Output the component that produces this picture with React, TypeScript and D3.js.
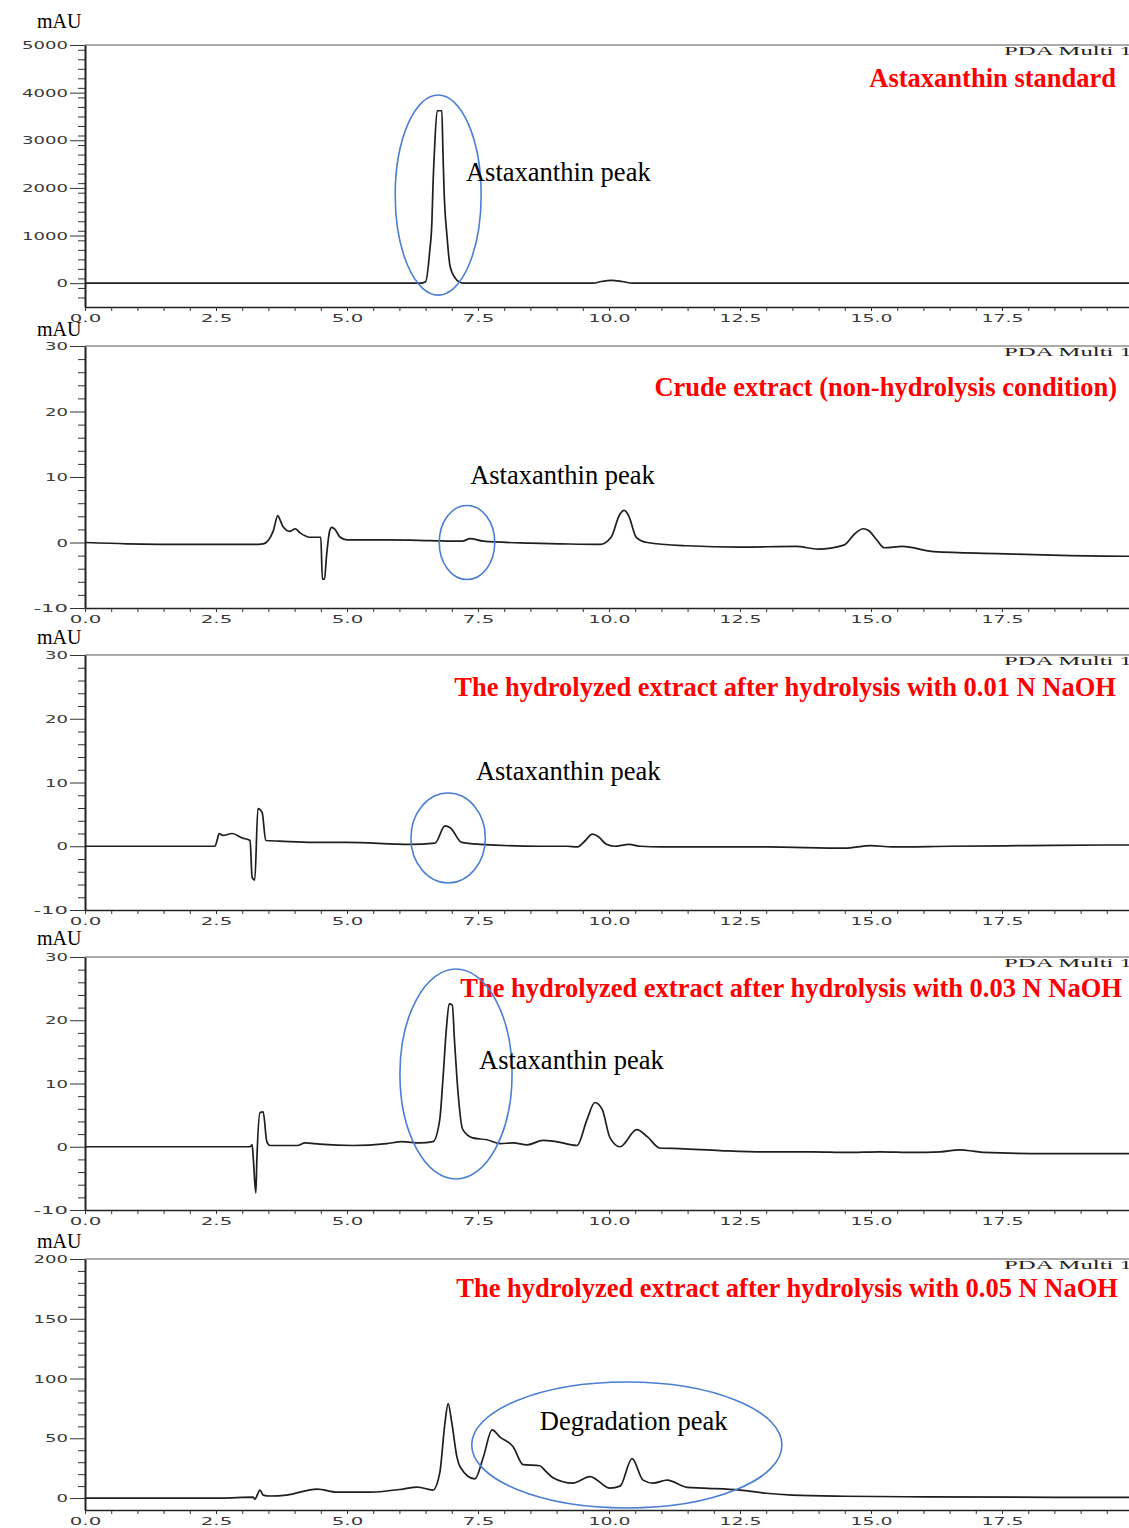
import { useEffect, useRef } from 'react';
import * as d3 from 'd3';

type Pt = [number, number];

// retention time (min), absorbance (mAU)
const standardTrace: Pt[] = [
  [0, 0], [3.3, 0], [6.4, 0], [6.5, 30], [6.58, 690], [6.62, 1280], [6.64, 2020], [6.67, 2800],
  [6.72, 3620], [6.81, 3620], [6.83, 2800], [6.85, 2020], [6.91, 970], [6.97, 340], [7.1, 60],
  [7.21, 0], [9.7, 0], [9.85, 35], [10.05, 60], [10.25, 35], [10.45, 0], [20, 0],
];

const crudeTrace: Pt[] = [
  [0, 0], [0.8, -0.2], [2.0, -0.3], [3.2, -0.3], [3.4, -0.2], [3.59, 1.7], [3.68, 4.1], [3.72, 3.5],
  [3.78, 2.4], [3.91, 1.7], [4.01, 2.1], [4.1, 1.5], [4.29, 0.8], [4.5, 0.8], [4.53, -5.6],
  [4.57, -5.6], [4.61, -2.0], [4.67, 1.8], [4.71, 2.3], [4.77, 2.0], [4.87, 0.8], [5.0, 0.4],
  [5.8, 0.4], [6.58, 0.3], [7.2, 0.2], [7.35, 0.6], [7.6, 0.2], [8.5, -0.1], [9.06, -0.2],
  [9.83, -0.3], [10.04, 0.8], [10.2, 4.2], [10.29, 4.9], [10.38, 4.0], [10.52, 0.8], [10.73, 0.0],
  [11.5, -0.5], [12.5, -0.7], [13.57, -0.6], [13.99, -1.0], [14.48, -0.4], [14.7, 1.4], [14.85, 2.1],
  [14.96, 1.8], [15.1, 0.5], [15.25, -0.8], [15.6, -0.6], [16.2, -1.4], [17.4, -1.7], [18.8, -2.0],
  [19.9, -2.1], [20, -2.1],
];

const naoh001Trace: Pt[] = [
  [0, 0], [2.48, 0], [2.52, 0.9], [2.56, 2.0], [2.63, 1.7], [2.81, 2.0], [3.0, 1.3], [3.15, 0.9],
  [3.19, -4.9], [3.24, -5.3], [3.3, 5.9], [3.38, 5.3], [3.45, 0.9], [3.72, 0.8], [4.35, 0.6],
  [5.0, 0.6], [6.2, 0.3], [6.68, 0.5], [6.87, 3.2], [6.97, 2.9], [7.19, 0.6], [7.54, 0.3],
  [8.68, 0.0], [9.2, 0.0], [9.4, -0.1], [9.55, 0.9], [9.68, 1.9], [9.8, 1.5], [9.95, 0.3],
  [10.1, 0.0], [10.38, 0.3], [10.6, 0.0], [11.0, -0.1], [12.0, -0.1], [13.0, -0.1], [14.5, -0.3],
  [15.0, 0.1], [15.4, -0.1], [16.5, 0.0], [18.0, 0.1], [19.5, 0.2], [20, 0.2],
];

const naoh003Trace: Pt[] = [
  [0, 0], [1.5, 0], [3.15, 0], [3.19, 0.3], [3.21, -1.6], [3.26, -7.3], [3.28, -2], [3.34, 5.4],
  [3.4, 5.5], [3.47, 0.8], [3.53, 0.2], [4.05, 0.2], [4.2, 0.6], [4.48, 0.4], [5.11, 0.2],
  [5.76, 0.5], [6.05, 0.8], [6.39, 0.6], [6.64, 0.8], [6.77, 4.3], [6.83, 10.6], [6.9, 19],
  [6.95, 22.6], [7.01, 22.4], [7.05, 17], [7.1, 10.6], [7.21, 2.7], [7.4, 1.4], [7.67, 1.1],
  [7.92, 0.5], [8.17, 0.6], [8.44, 0.3], [8.74, 1.0], [8.93, 0.9], [9.39, 0.2], [9.58, 4.3],
  [9.73, 7.0], [9.87, 5.9], [10.02, 1.4], [10.21, 0.0], [10.53, 2.7], [10.73, 1.6], [10.97, -0.2],
  [11.35, -0.3], [12.12, -0.6], [12.94, -0.8], [13.89, -0.8], [14.54, -0.9], [15.17, -0.8],
  [15.8, -0.9], [16.32, -0.8], [16.7, -0.5], [16.95, -0.7], [17.14, -0.9], [18.36, -1.1], [20, -1.1],
];

const naoh005Trace: Pt[] = [
  [0, 0], [2.58, 0], [3.21, 0.8], [3.24, -1], [3.34, 6.7], [3.4, 2.5], [3.53, 1.7], [3.85, 2.5],
  [4.43, 7.5], [4.81, 5], [5.44, 5], [6.07, 7.5], [6.34, 9.2], [6.64, 6.7], [6.77, 21], [6.87, 63],
  [6.93, 79], [7.0, 63], [7.1, 34], [7.16, 26], [7.44, 16], [7.6, 34], [7.77, 57], [7.92, 51],
  [8.17, 43], [8.36, 28], [8.68, 27], [8.78, 23], [8.93, 17], [9.31, 12.5], [9.64, 18],
  [10.02, 8.3], [10.21, 10], [10.44, 33], [10.65, 15], [10.84, 12.5], [11.11, 15], [11.49, 9],
  [11.79, 8.3], [12.5, 6.7], [13.0, 4], [13.5, 2.5], [14.5, 1.5], [16, 1], [20, 0.5],
];

const xTicks = [0, 2.5, 5, 7.5, 10, 12.5, 15, 17.5];
const yTicksStandard = [0, 1000, 2000, 3000, 4000, 5000];
const yTicksSmall = [-10, 0, 10, 20, 30];
const yTicksNaoh005 = [0, 50, 100, 150, 200];

const titles = [
  'Astaxanthin standard',
  'Crude extract (non-hydrolysis condition)',
  'The hydrolyzed extract after hydrolysis with 0.01 N NaOH',
  'The hydrolyzed extract after hydrolysis with 0.03 N NaOH',
  'The hydrolyzed extract after hydrolysis with 0.05 N NaOH',
];

const panels = [
  {
    trace: standardTrace, title: titles[0], yDomain: [-500, 5000], yTicks: yTicksStandard, minorStep: 200,
    top: 45, bottom: 307, titleX: 1116, titleDy: 42, mauDy: -17,
    ellipse: { t: 6.74, v: 1850, rt: 0.82, rv: 2100 },
    label: { text: 'Astaxanthin peak', t: 7.27, v: 2145 },
  },
  {
    trace: crudeTrace, title: titles[1], yDomain: [-10, 30], yTicks: yTicksSmall, minorStep: 2,
    top: 346, bottom: 608, titleX: 1117, titleDy: 50, mauDy: -10,
    ellipse: { t: 7.29, v: 0, rt: 0.53, rv: 5.65 },
    label: { text: 'Astaxanthin peak', t: 7.35, v: 8.93 },
  },
  {
    trace: naoh001Trace, title: titles[2], yDomain: [-10, 30], yTicks: yTicksSmall, minorStep: 2,
    top: 655, bottom: 910, titleX: 1116, titleDy: 41, mauDy: -11,
    ellipse: { t: 6.93, v: 1.29, rt: 0.71, rv: 7.06 },
    label: { text: 'Astaxanthin peak', t: 7.46, v: 10.4 },
  },
  {
    trace: naoh003Trace, title: titles[3], yDomain: [-10, 30], yTicks: yTicksSmall, minorStep: 2,
    top: 957, bottom: 1210, titleX: 1122, titleDy: 40, mauDy: -12,
    ellipse: { t: 7.08, v: 11.5, rt: 1.07, rv: 16.6 },
    label: { text: 'Astaxanthin peak', t: 7.52, v: 12.3 },
  },
  {
    trace: naoh005Trace, title: titles[4], yDomain: [-10, 200], yTicks: yTicksNaoh005, minorStep: 10,
    top: 1259, bottom: 1510, titleX: 1118, titleDy: 38, mauDy: -11,
    ellipse: { t: 10.34, v: 44.4, rt: 2.96, rv: 52.7 },
    label: { text: 'Degradation peak', t: 8.68, v: 56.9 },
  },
];

const serif = '"Liberation Serif", "Times New Roman", serif';
const tickFont = '"DejaVu Sans", sans-serif';

const App = () => {
  const svgRef = useRef<SVGSVGElement>(null);

  useEffect(() => {
    if (!svgRef.current) return;
    const svg = d3.select(svgRef.current);
    svg.selectAll('*').remove();

    const x = d3.scaleLinear().domain([0, 20]).range([85, 1133]);

    panels.forEach((p) => {
      const y = d3.scaleLinear().domain(p.yDomain).range([p.bottom, p.top]);
      const g = svg.append('g');

      // grey frame line on top
      g.append('line')
        .attr('x1', x(0)).attr('x2', 1129)
        .attr('y1', p.top).attr('y2', p.top)
        .attr('stroke', '#8f8f8f')
        .attr('stroke-width', 1.5);

      // x axis
      const xAxis = g.append('g')
        .attr('transform', `translate(0,${p.bottom})`)
        .call(
          d3.axisBottom(x)
            .tickValues(d3.range(0, 20.01, 0.5))
            .tickSize(4)
            .tickSizeOuter(0)
            .tickFormat((d) => (xTicks.includes(+d) ? (+d).toFixed(1) : ''))
        );
      xAxis.select('.domain').attr('stroke', '#222').attr('stroke-width', 1.5);
      xAxis.selectAll('.tick line').attr('stroke', '#333');
      xAxis.selectAll('text')
        .style('font-family', tickFont)
        .style('font-size', '11px')
        .attr('fill', '#3a3a3a')
        .attr('textLength', function () { return (this as SVGTextElement).textContent!.length * 10.5; })
        .attr('lengthAdjust', 'spacingAndGlyphs');

      // y axis minor ticks
      const minor = d3.range(p.yDomain[0], p.yDomain[1] + 1e-6, p.minorStep)
        .filter((v) => !p.yTicks.includes(v) && v > p.yDomain[0]);
      const yMinor = g.append('g')
        .attr('transform', `translate(${x(0)},0)`)
        .call(d3.axisLeft(y).tickValues(minor).tickSize(7).tickFormat(() => ''));
      yMinor.select('.domain').remove();
      yMinor.selectAll('.tick line').attr('stroke', '#333');

      // y axis
      const yAxis = g.append('g')
        .attr('transform', `translate(${x(0)},0)`)
        .call(
          d3.axisLeft(y)
            .tickValues(p.yTicks)
            .tickSize(15)
            .tickSizeOuter(0)
            .tickPadding(2)
            .tickFormat((d) => String(d))
        );
      yAxis.select('.domain').attr('stroke', '#222').attr('stroke-width', 2);
      yAxis.selectAll('.tick line').attr('stroke', '#333');
      yAxis.selectAll('text')
        .style('font-family', tickFont)
        .style('font-size', '11px')
        .attr('fill', '#3a3a3a')
        .attr('textLength', function () { return (this as SVGTextElement).textContent!.length * 11.5; })
        .attr('lengthAdjust', 'spacingAndGlyphs');

      // unit label
      g.append('text')
        .attr('x', 37)
        .attr('y', p.top + p.mauDy)
        .style('font-family', serif)
        .style('font-size', '20px')
        .attr('fill', '#000')
        .text('mAU');

      // instrument tag
      g.append('text')
        .attr('x', 1004)
        .attr('y', p.top + 10)
        .style('font-family', serif)
        .style('font-size', '12px')
        .attr('fill', '#222')
        .attr('textLength', 128)
        .attr('lengthAdjust', 'spacingAndGlyphs')
        .text('PDA Multi 1');

      // chromatogram trace
      const line = d3.line<Pt>()
        .x((d) => x(d[0]))
        .y((d) => y(d[1]))
        .curve(d3.curveMonotoneX);

      g.append('path')
        .datum(p.trace)
        .attr('fill', 'none')
        .attr('stroke', '#1e1e1e')
        .attr('stroke-width', 1.7)
        .attr('stroke-linejoin', 'round')
        .attr('d', line);

      // red title
      g.append('text')
        .attr('x', p.titleX)
        .attr('y', p.top + p.titleDy)
        .attr('text-anchor', 'end')
        .style('font-family', serif)
        .style('font-weight', 'bold')
        .style('font-size', '26.5px')
        .attr('fill', '#ff0000')
        .text(p.title);

      // highlight ellipse
      const e = p.ellipse;
      g.append('ellipse')
        .attr('cx', x(e.t))
        .attr('cy', y(e.v))
        .attr('rx', x(e.t + e.rt) - x(e.t))
        .attr('ry', y(e.v) - y(e.v + e.rv))
        .attr('fill', 'none')
        .attr('stroke', '#4a7fd3')
        .attr('stroke-width', 1.6);

      // peak label
      g.append('text')
        .attr('x', x(p.label.t))
        .attr('y', y(p.label.v))
        .style('font-family', serif)
        .style('font-size', '26.5px')
        .attr('fill', '#000')
        .text(p.label.text);
    });
  }, []);

  return (
    <svg
      ref={svgRef}
      width={1129}
      height={1528}
      style={{ position: 'absolute', left: 0, top: 0, background: '#fff', display: 'block' }}
    />
  );
};

export default App;
